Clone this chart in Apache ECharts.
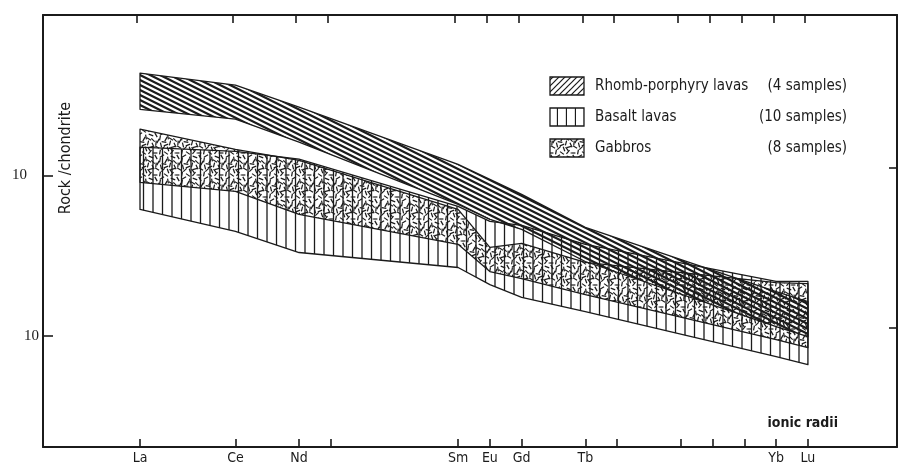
<!DOCTYPE html>
<html><head><meta charset="utf-8">
<script src="https://cdn.jsdelivr.net/npm/echarts@6/dist/echarts.min.js"></script>
<style>html,body{margin:0;padding:0;background:#fff}#c{width:899px;height:465px}</style>
</head><body><div id="c"></div>
<script>
// Element positions on the ionic-radius axis (La = 0 ... Lu = 21)
const elements   = ['La','Ce','Nd','Sm','Eu','Gd','Tb','Yb','Lu'];
const positions  = [0, 3, 5, 10, 11, 12, 14, 20, 21];
const tickPositions = [0,3,5,6,10,11,12,14,15,17,18,19,20,21];

// Rock / chondrite envelopes
const rhombUpper  = [434, 365, 266, 117, 94.4, 76.1, 47.3, 18.8, 16.3];
const rhombLower  = [258, 224, 161, 65.9, 53.1, 46.0, 29.0, 11.4, 9.86];
const basaltUpper = [150, 141, 126, 64.0, 51.6, 48.7, 37.1, 21.8, 21.8];
const basaltLower = [61.3, 44.7, 33.0, 26.6, 20.8, 17.3, 14.1, 7.39, 6.59];
const gabbroUpper = [194, 145, 124, 61.3, 35.5, 37.6, 28.6, 21.4, 21.1];
const gabbroLower = [90.4, 79.4, 57.0, 37.1, 25.1, 22.7, 18.0, 9.44, 8.41];

const legendItems = [
  ['Rhomb-porphyry lavas', '(4 samples)'],
  ['Basalt lavas', '(10 samples)'],
  ['Gabbros', '(8 samples)']
];

const INK = '#1b1b1b';
const FONT = '"DejaVu Sans Condensed","Liberation Sans Narrow","DejaVu Sans",sans-serif';

function makeCanvas(w, h, draw) {
  const c = document.createElement('canvas'); c.width = w; c.height = h;
  const g = c.getContext('2d'); g.strokeStyle = INK; g.lineCap = 'butt'; draw(g, w, h); return c;
}
// descending diagonal hatch (slope 0.5, 5 px vertical period)
const hatchDown = makeCanvas(10, 10, (g) => {
  g.lineWidth = 2.2;
  for (let k = -3; k <= 3; k++) { g.beginPath(); g.moveTo(-2, k*5 - 1); g.lineTo(12, k*5 + 6); g.stroke(); }
});
// rising hatch for legend
const hatchUp = makeCanvas(6, 6, (g) => {
  g.lineWidth = 1.2;
  for (let k = 0; k <= 2; k++) { g.beginPath(); g.moveTo(-1, k*6 + 1); g.lineTo(7, k*6 - 7); g.stroke(); }
});
const vlines = makeCanvas(19, 4, (g) => {
  g.lineWidth = 1.3;
  [1, 10.5].forEach(x => { g.beginPath(); g.moveTo(x, 0); g.lineTo(x, 4); g.stroke(); });
});
const vlinesLegend = makeCanvas(9, 4, (g) => {
  g.lineWidth = 1.3; g.beginPath(); g.moveTo(8.5, 0); g.lineTo(8.5, 4); g.stroke();
});
const dashTile = [[2,3,60],[8,2,-30],[14,5,80],[19,3,20],[4,9,-60],[10,10,10],[16,11,-75],[21,8,45],
                  [3,15,30],[9,16,-45],[14,17,70],[19,15,-15],[6,20,-80],[12,21,35],[18,20,-50],[1,21,0],
                  [6,6,100],[12,7,-60],[17,7,30],[7,13,75],[12,13,-20],[17,17,55],[2,11,-85],[21,13,65]];
const stipple = makeCanvas(22, 22, (g) => {
  g.lineWidth = 1.2;
  for (const [x, y, a] of dashTile) {
    const r = a * Math.PI / 180, dx = Math.cos(r) * 2.4, dy = Math.sin(r) * 2.4;
    for (const ox of [-22, 0, 22]) for (const oy of [-22, 0, 22]) {
      g.beginPath(); g.moveTo(x + ox - dx, y + oy - dy); g.lineTo(x + ox + dx, y + oy + dy); g.stroke();
    }
  }
});

function band(name, upper, lower, pattern, z) {
  return {
    type: 'custom', name: name, z: z,
    xAxisIndex: 0, yAxisIndex: 0,
    data: positions.map((x, i) => [x, upper[i], lower[i]]),
    encode: { x: 0, y: [1, 2] },
    renderItem: function (params, api) {
      if (params.dataIndex !== 0) return null;
      const pts = [];
      for (let i = 0; i < positions.length; i++) pts.push(api.coord([positions[i], upper[i]]));
      for (let i = positions.length - 1; i >= 0; i--) pts.push(api.coord([positions[i], lower[i]]));
      return { type: 'polygon', shape: { points: pts },
        style: { fill: { image: pattern, repeat: 'repeat' }, stroke: INK, lineWidth: 1.3, lineJoin: 'round' } };
    }
  };
}

const chart = echarts.init(document.getElementById('c'), null, { renderer: 'canvas' });
const axisLine = { show: true, onZero: false, lineStyle: { color: INK, width: 2 } };
const xBase = { type: 'value', splitLine: { show: false }, axisLine: axisLine };
const yBase = { type: 'log', logBase: 10, splitLine: { show: false }, axisLine: axisLine };

const graphics = [];
legendItems.forEach((it, i) => {
  const top = 77 + i * 31;
  const pat = i === 0 ? hatchUp : (i === 1 ? vlinesLegend : stipple);
  graphics.push({ type: 'rect', shape: { x: 550, y: top, width: 34, height: 18 },
    style: { fill: { image: pat, repeat: 'repeat' }, stroke: INK, lineWidth: 1.3 } });
  graphics.push({ type: 'text', x: 595, y: top + 9, style: { text: it[0], font: '15px ' + FONT, fill: INK, verticalAlign: 'middle', align: 'left' } });
  graphics.push({ type: 'text', x: 847, y: top + 9, style: { text: it[1], font: '15px ' + FONT, fill: INK, verticalAlign: 'middle', align: 'right' } });
});
graphics.push({ type: 'text', x: 66, y: 158, rotation: Math.PI / 2,
  style: { text: 'Rock /chondrite', font: '16px ' + FONT, fill: INK, align: 'center', verticalAlign: 'middle' } });
graphics.push({ type: 'text', x: 838, y: 423,
  style: { text: 'ionic radii', font: 'bold 14px ' + FONT, fill: INK, align: 'right', verticalAlign: 'middle' } });

chart.setOption({
  backgroundColor: '#ffffff',
  animation: false,
  grid: { left: 43, right: 2, top: 15, bottom: 18 },
  xAxis: [
    Object.assign({}, xBase, { position: 'bottom', min: -3.05, max: 23.8,
      axisTick: { show: true, inside: true, length: 8, customValues: tickPositions, lineStyle: { color: INK, width: 1.6 } },
      axisLabel: { show: true, margin: 4, customValues: positions, color: INK, fontFamily: FONT, fontSize: 14,
        formatter: v => { const i = positions.indexOf(Math.round(v)); return i >= 0 ? elements[i] : ''; } } }),
    Object.assign({}, xBase, { position: 'top', min: -2.96, max: 23.89,
      axisTick: { show: true, inside: true, length: 8, customValues: tickPositions, lineStyle: { color: INK, width: 1.6 } },
      axisLabel: { show: false } })
  ],
  yAxis: [
    Object.assign({}, yBase, { position: 'left', min: 2.02, max: 1000,
      axisTick: { show: true, inside: true, length: 10, lineStyle: { color: INK, width: 1.6 } },
      axisLabel: { show: true, margin: 4, color: INK,
        formatter: v => (Math.abs(v - 100) < 1e-6 ? '{u|10}' : (Math.abs(v - 10) < 1e-6 ? '{l|10}' : '')),
        rich: { u: { fontFamily: '"Liberation Serif","DejaVu Serif",serif', fontSize: 15, color: INK, padding: [0, 12, 0, 0] },
                l: { fontFamily: '"Liberation Serif","DejaVu Serif",serif', fontSize: 15, color: INK } } } }),
    Object.assign({}, yBase, { position: 'right', min: 1.8, max: 891,
      axisTick: { show: true, inside: true, length: 8, lineStyle: { color: INK, width: 1.6 } },
      axisLabel: { show: false } })
  ],
  series: [
    band('Gabbros', gabbroUpper, gabbroLower, stipple, 1),
    band('Basalt lavas', basaltUpper, basaltLower, vlines, 2),
    band('Rhomb-porphyry lavas', rhombUpper, rhombLower, hatchDown, 3)
  ],
  graphic: graphics
});
</script></body></html>
